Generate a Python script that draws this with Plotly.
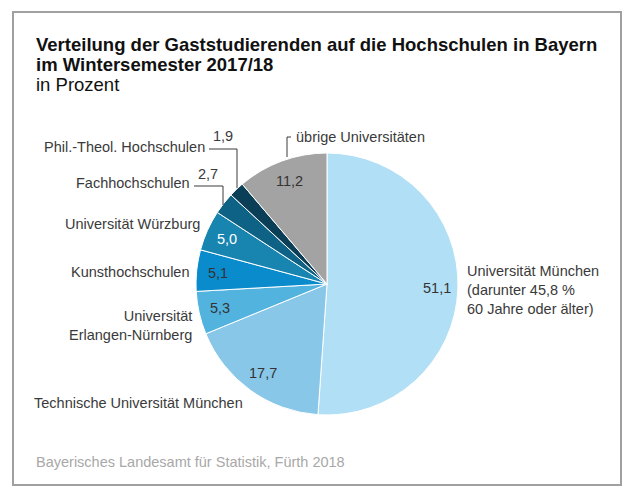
import math
import plotly.graph_objects as go

categories = ['Universität München', 'Technische Universität München',
              'Universität Erlangen-Nürnberg', 'Kunsthochschulen',
              'Universität Würzburg', 'Fachhochschulen',
              'Phil.-Theol. Hochschulen', 'übrige Universitäten']
values = [51.1, 17.7, 5.3, 5.1, 5.0, 2.7, 1.9, 11.2]
colors = ['#b1dff6', '#88c7e8', '#53b3df', '#0a8bcc',
          '#1885b1', '#0e6285', '#0b3f57', '#a3a3a3']
# value written inside the slice or outside with a leader line
inside = [True, True, True, True, True, False, False, True]
valcolors = ['#333', '#333', '#333', '#333', '#fff', '#333', '#333', '#333']

# page body has an 8px margin, so the figure is drawn smaller and offset
OFF = 8
W, H = 636 - 2 * OFF, 497 - 2 * OFF
CX, CY, R = 327, 284, 131


def px(x):
    return (x - OFF) / W


def py(y):
    return 1 - (y - OFF) / H


LBL = dict(family='Liberation Sans, Arial, sans-serif', size=14.5, color='#3a3a3a')

fig = go.Figure(go.Pie(
    labels=categories, values=values, sort=False, direction='clockwise',
    rotation=0, textinfo='none', hoverinfo='label+value',
    marker=dict(colors=colors, line=dict(color='white', width=1)),
    domain=dict(x=[px(CX - R), px(CX + R)], y=[py(CY + R), py(CY - R)]),
    showlegend=False,
))

annotations = []
# value labels placed around the middle angle of each slice
total = sum(values)
cum = 0
for v, ins, c in zip(values, inside, valcolors):
    mid = (cum + v / 2) / total * 2 * math.pi
    cum += v
    if not ins:
        continue
    x = CX + 0.84 * R * math.sin(mid)
    y = CY - 0.84 * R * math.cos(mid)
    annotations.append(dict(x=px(x), y=py(y), xref='paper', yref='paper',
                            text=f'{v:.1f}'.replace('.', ','), showarrow=False,
                            font=dict(LBL, color=c), xanchor='center', yanchor='middle'))


def note(x, y, text, anchor='right', **kw):
    annotations.append(dict(x=px(x), y=py(y), xref='paper', yref='paper', text=text,
                            showarrow=False, xanchor=anchor, yanchor='middle',
                            align=anchor, font=kw.get('font', LBL)))


note(465, 290, 'Universität München<br>(darunter 45,8 %<br>60 Jahre oder älter)', 'left')
note(245, 403, 'Technische Universität München')
note(194, 325, 'Universität<br>Erlangen-Nürnberg')
note(192, 272, 'Kunsthochschulen')
note(202, 224, 'Universität Würzburg')
note(192, 183, 'Fachhochschulen')
note(207, 147, 'Phil.-Theol. Hochschulen')
note(294, 137, 'übrige Universitäten', 'left')
note(208, 174, '2,7', 'center')
note(223, 136, '1,9', 'center')

TITLE = dict(family='Liberation Sans, Arial, sans-serif', size=18.5, color='#111')
note(34, 44, '<b>Verteilung der Gaststudierenden auf die Hochschulen in Bayern</b>', 'left', font=TITLE)
note(34, 64, '<b>im Wintersemester 2017/18</b>', 'left', font=TITLE)
note(34, 85, 'in Prozent', 'left', font=TITLE)
note(34, 462, 'Bayerisches Landesamt für Statistik, Fürth 2018', 'left',
     font=dict(LBL, color='#a8a8a8'))

line = dict(color='#3a3a3a', width=1)
shapes = [
    dict(type='rect', xref='paper', yref='paper', x0=px(13), x1=px(621),
         y0=py(485), y1=py(12), line=dict(color='#a0a0a0', width=2)),
    dict(type='path', xref='paper', yref='paper', line=line,
         path=f'M{px(209)},{py(149)} L{px(237)},{py(149)} L{px(237)},{py(188)}'),
    dict(type='path', xref='paper', yref='paper', line=line,
         path=f'M{px(194)},{py(186)} L{px(223)},{py(186)} L{px(223)},{py(205)}'),
    dict(type='path', xref='paper', yref='paper', line=line,
         path=f'M{px(291)},{py(137)} L{px(287)},{py(137)} L{px(287)},{py(157)}'),
]

fig.update_layout(width=W, height=H, margin=dict(l=0, r=0, t=0, b=0),
                  paper_bgcolor='white', plot_bgcolor='white',
                  separators=',.', annotations=annotations, shapes=shapes)
fig.write_html('out.html')
